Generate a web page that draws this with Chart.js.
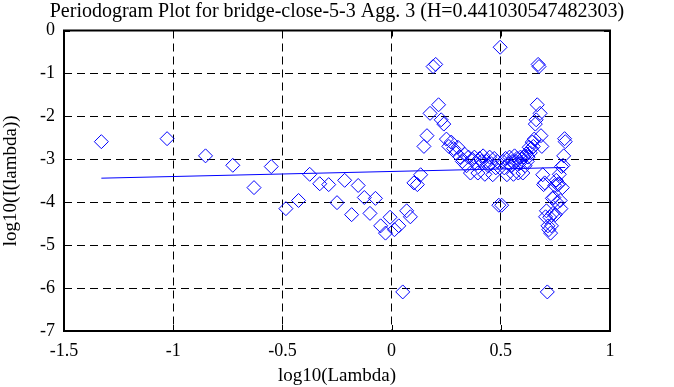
<!DOCTYPE html>
<html>
<head>
<meta charset="utf-8">
<script src="https://cdn.jsdelivr.net/npm/chart.js@4.4.1/dist/chart.umd.min.js"></script>
<style>
  html, body { margin: 0; padding: 0; background: #fff; }
  #wrap { width: 674px; height: 387px; }
</style>
</head>
<body>
<div id="wrap"><canvas id="chart" width="674" height="387"></canvas></div>
<script>
// periodogram points (log10 of frequency, log10 of periodogram)
const logLambda = [
  -1.329, -1.028, -0.852, -0.727, -0.630, -0.551, -0.484, -0.426, -0.375, -0.329,
  -0.288, -0.250, -0.215, -0.183, -0.153, -0.125, -0.099, -0.074, -0.050, -0.028,
  -0.007, 0.013, 0.033, 0.051, 0.069, 0.086, 0.102, 0.118, 0.133, 0.148,
  0.162, 0.176, 0.190, 0.202, 0.215, 0.227, 0.239, 0.251, 0.262, 0.273,
  0.284, 0.294, 0.304, 0.314, 0.324, 0.334, 0.343, 0.352, 0.361, 0.370,
  0.379, 0.387, 0.395, 0.403, 0.411, 0.419, 0.427, 0.434, 0.442, 0.449,
  0.456, 0.463, 0.470, 0.477, 0.484, 0.491, 0.497,
  0.504, 0.510, 0.516, 0.522, 0.528, 0.534, 0.540, 0.546, 0.552, 0.558,
  0.563, 0.569, 0.574, 0.580, 0.585, 0.590, 0.595, 0.601, 0.606, 0.611,
  0.616, 0.621, 0.625, 0.630, 0.635, 0.640, 0.644, 0.649, 0.653, 0.658,
  0.662, 0.667, 0.671, 0.675, 0.680, 0.684, 0.688, 0.692, 0.696, 0.701,
  0.705, 0.709, 0.713, 0.716, 0.720, 0.724, 0.728, 0.732, 0.736, 0.739,
  0.743, 0.747, 0.750, 0.754, 0.758, 0.761, 0.765, 0.768, 0.772, 0.775,
  0.778, 0.782, 0.785, 0.788, 0.792, 0.795
];
const logPeriodogram = [
  -2.59, -2.52, -2.92, -3.14, -3.66, -3.17, -4.15, -3.96, -3.35, -3.57,
  -3.59, -4.01, -3.49, -4.29, -3.61, -3.89, -4.26, -3.91, -4.55, -4.72,
  -4.35, -4.64, -4.55, -6.09, -4.20, -4.34, -3.55, -3.59, -3.36, -2.70,
  -2.45, -1.93, -0.84, -0.79, -1.73, -2.08, -2.18, -2.53, -2.70, -2.60,
  -2.75, -2.85, -2.72, -2.95, -3.05, -2.88, -3.15, -2.95, -3.32, -3.00,
  -2.95, -3.10, -3.32, -2.98, -3.05, -2.92, -3.35, -3.05, -3.15, -2.95,
  -3.10, -3.36, -2.98, -3.20, -3.05, -4.07, -0.39,
  -4.07, -3.05, -3.20, -2.98, -3.36, -3.10, -2.95, -3.15, -3.05, -3.35,
  -2.92, -3.05, -2.98, -3.32, -3.10, -2.95, -3.00, -3.32, -2.95, -3.15,
  -2.88, -3.05, -2.95, -2.72, -2.85, -2.75, -2.60, -2.70, -2.53, -2.18,
  -2.08, -1.73, -0.79, -0.84, -1.93, -2.45, -2.70, -3.36, -3.59, -3.55,
  -4.34, -4.20, -6.09, -4.55, -4.64, -4.35, -4.72, -4.55, -3.91, -4.26,
  -3.89, -3.61, -4.29, -3.49, -4.01, -3.59, -3.57, -3.35, -3.96, -4.15,
  -3.17, -3.66, -3.14, -2.92, -2.52, -2.59
];

// least squares fit line end points
const fitX = [-1.329, 0.795];
const fitY = [-3.44, -3.19];

const xTicks = [-1.5, -1, -0.5, 0, 0.5, 1];
const yTicks = [0, -1, -2, -3, -4, -5, -6, -7];

const TITLE = 'Periodogram Plot for bridge-close-5-3 Agg. 3 (H=0.441030547482303)';
const FONT = "'Liberation Serif', 'DejaVu Serif', serif";
const BLUE = '#0000ff';

// frame + small inward ticks on all four sides
const framePlugin = {
  id: 'frame',
  afterDraw(chart) {
    const { ctx, chartArea: a, scales } = chart;
    ctx.save();
    ctx.strokeStyle = '#000';
    ctx.lineWidth = 1;
    ctx.beginPath();
    xTicks.forEach(v => {
      const px = Math.round(scales.x.getPixelForValue(v)) + 0.5;
      ctx.moveTo(px, a.top); ctx.lineTo(px, a.top + 6);
      ctx.moveTo(px, a.bottom); ctx.lineTo(px, a.bottom - 6);
    });
    yTicks.forEach(v => {
      const py = Math.round(scales.y.getPixelForValue(v)) + 0.5;
      ctx.moveTo(a.left, py); ctx.lineTo(a.left + 6, py);
      ctx.moveTo(a.right, py); ctx.lineTo(a.right - 6, py);
    });
    ctx.stroke();
    ctx.lineWidth = 2;
    ctx.strokeRect(a.left, a.top, a.right - a.left, a.bottom - a.top);
    ctx.restore();
  }
};

new Chart(document.getElementById('chart'), {
  type: 'scatter',
  data: {
    datasets: [
      {
        label: 'fit',
        type: 'line',
        data: fitX.map((x, i) => ({ x, y: fitY[i] })),
        borderColor: BLUE,
        borderWidth: 1,
        pointRadius: 0,
        fill: false,
      },
      {
        label: 'periodogram',
        data: logLambda.map((x, i) => ({ x, y: logPeriodogram[i] })),
        pointStyle: 'rectRot',
        pointRadius: 7,
        borderColor: BLUE,
        borderWidth: 1,
        backgroundColor: 'rgba(0,0,0,0)',
      },
    ]
  },
  options: {
    responsive: false,
    animation: false,
    layout: { padding: 0 },
    plugins: {
      legend: { display: false },
      tooltip: { enabled: false },
      title: {
        display: true,
        text: TITLE,
        color: '#000',
        font: { family: FONT, size: 20, weight: 'normal', lineHeight: 1.2 },
        padding: { top: 0, bottom: 6.5 },
      },
    },
    scales: {
      x: {
        type: 'linear',
        min: -1.5, max: 1,
        afterBuildTicks: s => { s.ticks = xTicks.map(v => ({ value: v })); },
        afterFit: s => { s.height = 56; },
        ticks: {
          color: '#000',
          font: { family: FONT, size: 18 },
          padding: 9,
          maxRotation: 0,
          callback: v => String(v),
        },
        grid: { color: '#000', lineWidth: 1, drawTicks: false },
        border: { display: false, dash: [8, 5] },
        title: {
          display: true,
          text: 'log10(Lambda)',
          color: '#000',
          font: { family: FONT, size: 19 },
          padding: { top: 0, bottom: 0 },
        },
      },
      y: {
        type: 'linear',
        min: -7, max: 0,
        afterBuildTicks: s => { s.ticks = yTicks.map(v => ({ value: v })); },
        afterFit: s => { s.width = 64; },
        ticks: {
          color: '#000',
          font: { family: FONT, size: 18 },
          padding: 9,
          callback: v => String(v),
        },
        grid: { color: '#000', lineWidth: 1, drawTicks: false },
        border: { display: false, dash: [8, 5] },
        title: {
          display: true,
          text: 'log10(I(lambda))',
          color: '#000',
          font: { family: FONT, size: 19 },
          padding: { top: 0, bottom: 0 },
        },
      },
      // empty right-hand margin so the title stays centred on the page
      yRight: {
        type: 'linear',
        position: 'right',
        min: -7, max: 0,
        afterFit: s => { s.width = 64; },
        ticks: { display: false },
        grid: { drawOnChartArea: false, drawTicks: false },
        border: { display: false },
      },
    },
  },
  plugins: [framePlugin],
});
</script>
</body>
</html>
